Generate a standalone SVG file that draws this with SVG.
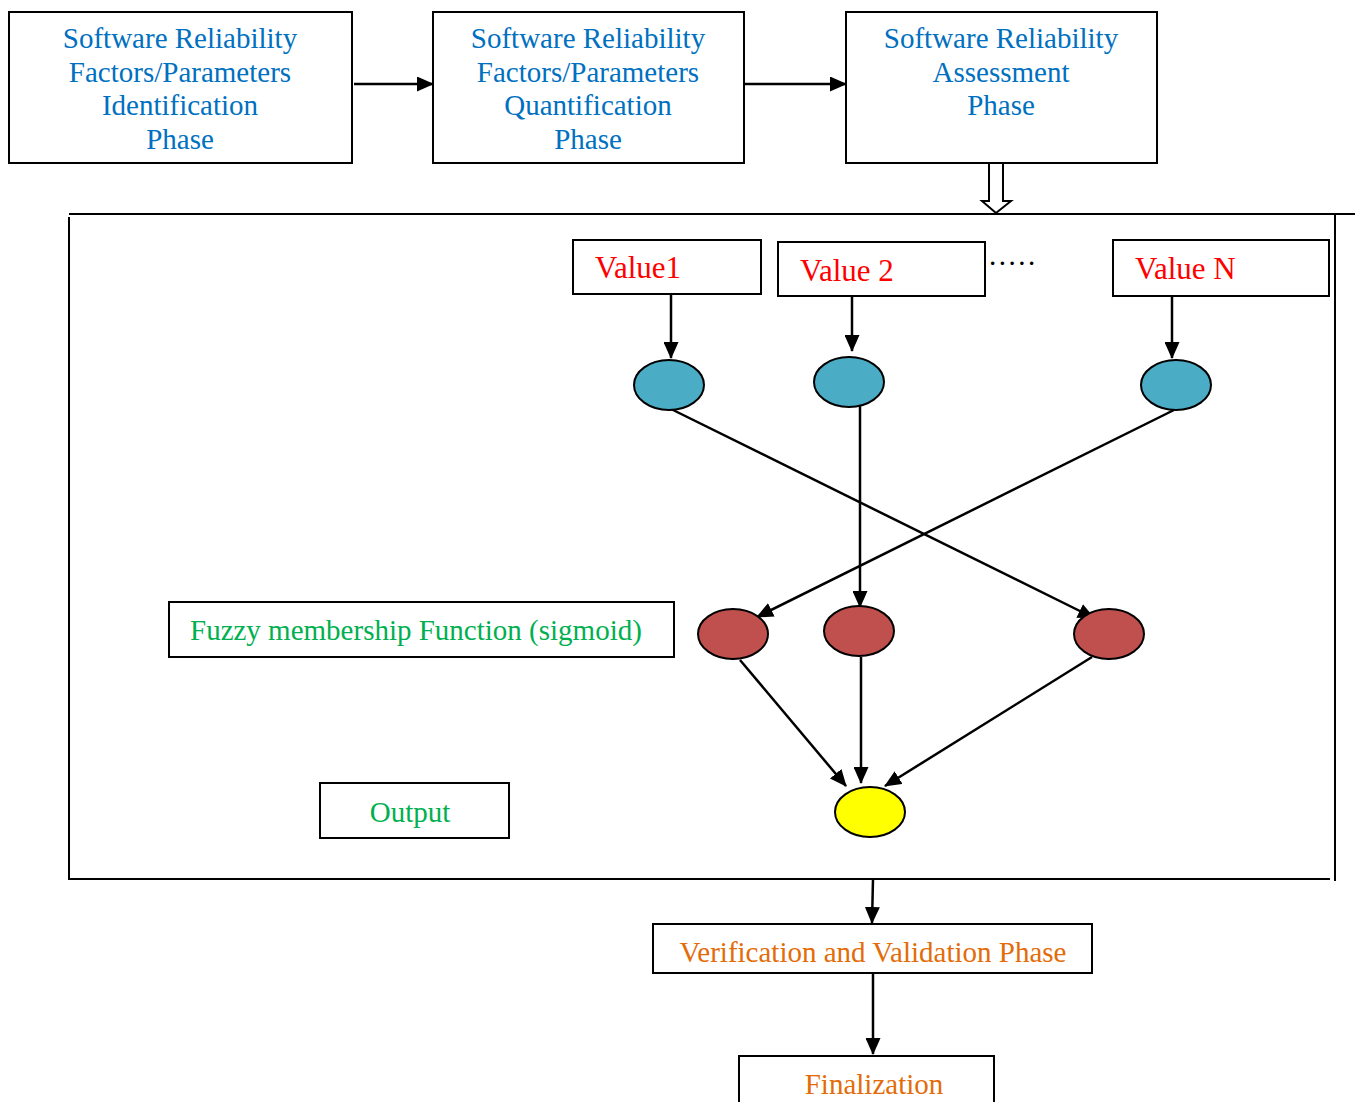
<svg xmlns="http://www.w3.org/2000/svg" width="1355" height="1102" viewBox="0 0 1355 1102">
<style>
.box{fill:#fff;stroke:#000;stroke-width:2}
.t{font-family:"Liberation Serif","Times New Roman",serif;font-size:29px}
.blue{fill:#0070c0}
.red{fill:#ff0000;font-size:31px}
.green{fill:#00b050}
.orange{fill:#e36c09}
.ln{stroke:#000;stroke-width:2.5;fill:none}
.e{stroke:#000;stroke-width:2}
</style>
<defs>
<marker id="ah" markerUnits="userSpaceOnUse" markerWidth="17" markerHeight="15" refX="16" refY="7.5" orient="auto">
<path d="M0,0 L17,7.5 L0,15 Z" fill="#000"/>
</marker>
</defs>
<rect width="1355" height="1102" fill="#fff"/>

<g id="container">
<line x1="69" y1="214" x2="1355" y2="214" stroke="#000" stroke-width="2"/>
<line x1="69" y1="217" x2="69" y2="880" stroke="#000" stroke-width="2"/>
<line x1="1335" y1="214" x2="1335" y2="881" stroke="#000" stroke-width="2"/>
<line x1="69" y1="879" x2="1330" y2="879" stroke="#000" stroke-width="2"/>
</g>

<g id="connectors">
<line class="ln" x1="354" y1="84" x2="433" y2="84" marker-end="url(#ah)"/>
<line class="ln" x1="744" y1="84" x2="846" y2="84" marker-end="url(#ah)"/>
<path d="M989,163 L989,201 L982,201 L996,213 L1011,201 L1003,201 L1003,163" fill="#fff" stroke="#000" stroke-width="2"/>
<line class="ln" x1="671" y1="294" x2="671" y2="358" marker-end="url(#ah)"/>
<line class="ln" x1="852" y1="296" x2="852" y2="351" marker-end="url(#ah)"/>
<line class="ln" x1="1172" y1="296" x2="1172" y2="358" marker-end="url(#ah)"/>
<line class="ln" x1="669" y1="408" x2="1094" y2="618" marker-end="url(#ah)"/>
<line class="ln" x1="860" y1="406" x2="860" y2="607" marker-end="url(#ah)"/>
<line class="ln" x1="1174" y1="410" x2="757" y2="617" marker-end="url(#ah)"/>
<line class="ln" x1="740" y1="660" x2="846" y2="786" marker-end="url(#ah)"/>
<line class="ln" x1="861" y1="657" x2="861" y2="783" marker-end="url(#ah)"/>
<line class="ln" x1="1092" y1="657" x2="885" y2="786" marker-end="url(#ah)"/>
<line class="ln" x1="873" y1="879" x2="872" y2="923" marker-end="url(#ah)"/>
<line class="ln" x1="873" y1="973" x2="873" y2="1054" marker-end="url(#ah)"/>
</g>

<g id="phase1">
<rect class="box" x="9" y="12" width="343" height="151"/>
<text class="t blue" text-anchor="middle"><tspan x="180" y="48">Software Reliability</tspan><tspan x="180" y="82">Factors/Parameters</tspan><tspan x="180" y="115">Identification</tspan><tspan x="180" y="149">Phase</tspan></text>
</g>
<g id="phase2">
<rect class="box" x="433" y="12" width="311" height="151"/>
<text class="t blue" text-anchor="middle"><tspan x="588" y="48">Software Reliability</tspan><tspan x="588" y="82">Factors/Parameters</tspan><tspan x="588" y="115">Quantification</tspan><tspan x="588" y="149">Phase</tspan></text>
</g>
<g id="phase3">
<rect class="box" x="846" y="12" width="311" height="151"/>
<text class="t blue" text-anchor="middle"><tspan x="1001" y="48">Software Reliability</tspan><tspan x="1001" y="82">Assessment</tspan><tspan x="1001" y="115">Phase</tspan></text>
</g>

<g id="value1">
<rect class="box" x="573" y="240" width="188" height="54"/>
<text class="t red" x="595" y="278">Value1</text>
</g>
<g id="value2">
<rect class="box" x="778" y="242" width="207" height="54"/>
<text class="t red" x="800" y="281">Value 2</text>
</g>
<g id="dots">
<text class="t" x="989" y="265" fill="#000" letter-spacing="2.5">.....</text>
</g>
<g id="valueN">
<rect class="box" x="1113" y="240" width="216" height="56"/>
<text class="t red" x="1135" y="279">Value N</text>
</g>

<g id="in1"><ellipse class="e" cx="669" cy="385" rx="35" ry="25" fill="#4bacc6"/></g>
<g id="in2"><ellipse class="e" cx="849" cy="382" rx="35" ry="25" fill="#4bacc6"/></g>
<g id="inN"><ellipse class="e" cx="1176" cy="385" rx="35" ry="25" fill="#4bacc6"/></g>

<g id="fm1"><ellipse class="e" cx="733" cy="634" rx="35" ry="25" fill="#c0504d"/></g>
<g id="fm2"><ellipse class="e" cx="859" cy="631" rx="35" ry="25" fill="#c0504d"/></g>
<g id="fm3"><ellipse class="e" cx="1109" cy="634" rx="35" ry="25" fill="#c0504d"/></g>

<g id="out"><ellipse class="e" cx="870" cy="812" rx="35" ry="25" fill="#ffff00"/></g>

<g id="fuzzyLabel">
<rect class="box" x="169" y="602" width="505" height="55"/>
<text class="t green" x="190" y="640">Fuzzy membership Function (sigmoid)</text>
</g>
<g id="outputLabel">
<rect class="box" x="320" y="783" width="189" height="55"/>
<text class="t green" x="410" y="822" text-anchor="middle" font-size="30">Output</text>
</g>

<g id="vv">
<rect class="box" x="653" y="924" width="439" height="49"/>
<text class="t orange" x="873" y="962" text-anchor="middle">Verification and Validation Phase</text>
</g>
<g id="final">
<rect class="box" x="739" y="1056" width="255" height="60"/>
<text class="t orange" x="874" y="1094" text-anchor="middle">Finalization</text>
</g>
</svg>
